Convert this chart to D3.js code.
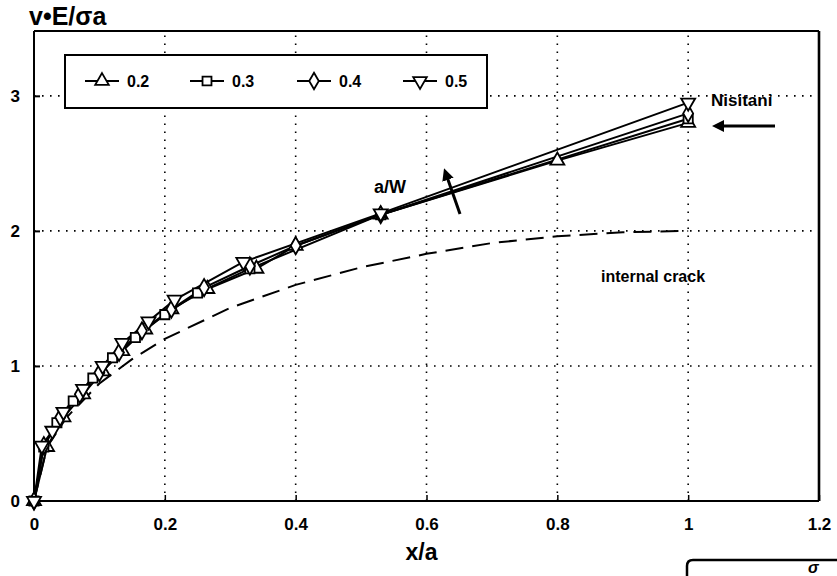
<!DOCTYPE html>
<html>
<head>
<meta charset="utf-8">
<script src="https://cdn.jsdelivr.net/npm/d3@7"></script>
<style>
  html, body { margin: 0; padding: 0; background: #fff; }
  svg { display: block; }
  text { font-family: "Liberation Sans", Arial, sans-serif; font-weight: bold; fill: #000; }
</style>
</head>
<body>
<svg id="chart" width="837" height="576"></svg>
<script>
// Crack opening displacement along the crack face, for several a/W ratios
const seriesNames = ["0.2", "0.3", "0.4", "0.5"];
const xTicks = [0, 0.2, 0.4, 0.6, 0.8, 1, 1.2];
const yTicks = [0, 1, 2, 3];

const xA02 = [0, 0.02, 0.045, 0.075, 0.105, 0.135, 0.17, 0.21, 0.265, 0.34, 0.4, 0.53, 0.8, 1.0];
const vA02 = [0, 0.40, 0.62, 0.79, 0.96, 1.11, 1.27, 1.42, 1.57, 1.72, 1.89, 2.12, 2.52, 2.80];
const xA03 = [0, 0.015, 0.035, 0.06, 0.09, 0.12, 0.155, 0.2, 0.25, 0.33, 0.53, 1.0];
const vA03 = [0, 0.40, 0.58, 0.74, 0.91, 1.06, 1.21, 1.38, 1.54, 1.72, 2.12, 2.83];
const xA04 = [0, 0.015, 0.04, 0.07, 0.1, 0.13, 0.165, 0.21, 0.26, 0.33, 0.4, 0.53, 1.0];
const vA04 = [0, 0.41, 0.62, 0.79, 0.95, 1.10, 1.26, 1.42, 1.58, 1.74, 1.89, 2.12, 2.87];
const xA05 = [0, 0.012, 0.028, 0.045, 0.075, 0.105, 0.135, 0.175, 0.215, 0.32, 0.53, 1.0];
const vA05 = [0, 0.41, 0.52, 0.66, 0.83, 1.00, 1.17, 1.33, 1.49, 1.77, 2.13, 2.95];

// Internal (Griffith) crack reference curve
const xInternal = [0, 0.02, 0.05, 0.1, 0.15, 0.2, 0.3, 0.4, 0.5, 0.6, 0.7, 0.8, 0.9, 1.0];
const vInternal = [0, 0.40, 0.62, 0.87, 1.05, 1.20, 1.43, 1.60, 1.73, 1.83, 1.91, 1.96, 1.99, 2.0];

const svg = d3.select("#chart");
const x = d3.scaleLinear().domain([0, 1.2]).range([34, 819]);
const y = d3.scaleLinear().domain([0, 3.48]).range([501, 31]);

// dotted grid
const grid = svg.append("g").attr("stroke", "#000").attr("stroke-width", 1.6)
  .attr("stroke-dasharray", "1.6,6.4").attr("fill", "none");
[0.2, 0.4, 0.6, 0.8, 1].forEach(v => {
  grid.append("line").attr("x1", x(v)).attr("x2", x(v)).attr("y1", y(0)).attr("y2", y(3.48));
});
[1, 2, 3].forEach(v => {
  grid.append("line").attr("x1", x(0)).attr("x2", x(1.2)).attr("y1", y(v)).attr("y2", y(v));
});

// frame
const frame = svg.append("g").attr("stroke", "#000").attr("fill", "none");
frame.append("line").attr("x1", x(0)).attr("x2", x(0)).attr("y1", y(0)).attr("y2", y(3.48)).attr("stroke-width", 2);
frame.append("line").attr("x1", x(0)).attr("x2", x(1.2)).attr("y1", y(0)).attr("y2", y(0)).attr("stroke-width", 2);
frame.append("line").attr("x1", x(1.2)).attr("x2", x(1.2)).attr("y1", y(0)).attr("y2", y(3.48)).attr("stroke-width", 2.6);
frame.append("line").attr("x1", x(0)).attr("x2", x(1.2)).attr("y1", y(3.48)).attr("y2", y(3.48)).attr("stroke-width", 2);

// inward ticks and labels via d3 axes
const fmt = d => d3.format("~g")(d);
const xAxis = d3.axisBottom(x).tickValues(xTicks).tickSize(-6).tickPadding(17).tickFormat(fmt);
const gx = svg.append("g").attr("transform", `translate(0,${y(0)})`).call(xAxis);
gx.select(".domain").remove();
gx.selectAll(".tick line").attr("stroke", "#000").attr("stroke-width", 1.5);
gx.selectAll(".tick text").attr("font-size", 17).attr("font-family", "Liberation Sans, Arial, sans-serif")
  .attr("font-weight", "bold").attr("fill", "#000");

const yAxis = d3.axisLeft(y).tickValues(yTicks).tickSize(-6).tickPadding(14).tickFormat(fmt);
const gy = svg.append("g").attr("transform", `translate(${x(0)},0)`).call(yAxis);
gy.select(".domain").remove();
gy.selectAll(".tick line").attr("stroke", "#000").attr("stroke-width", 2);
gy.selectAll(".tick text").attr("font-size", 17).attr("font-family", "Liberation Sans, Arial, sans-serif")
  .attr("font-weight", "bold").attr("fill", "#000");

// axis titles
svg.append("text").attr("x", 29).attr("y", 25).attr("font-size", 25).text("v•E/σa");
svg.append("text").attr("x", x(0.6) - 5).attr("y", 560).attr("text-anchor", "middle").attr("font-size", 23).text("x/a");

const line = d3.line().x(d => x(d[0])).y(d => y(d[1]));

// internal crack, dashed
svg.append("path").datum(d3.zip(xInternal, vInternal))
  .attr("d", line).attr("fill", "none").attr("stroke", "#000")
  .attr("stroke-width", 2).attr("stroke-dasharray", "18,9");

const symbols = [
  { type: d3.symbolTriangle, rot: 0 },
  { type: d3.symbolSquare, rot: 0 },
  { type: d3.symbolDiamond, rot: 0 },
  { type: d3.symbolTriangle, rot: 180 }
];
const seriesData = [
  d3.zip(xA02, vA02), d3.zip(xA03, vA03), d3.zip(xA04, vA04), d3.zip(xA05, vA05)
];

seriesData.forEach(data => {
  svg.append("path").datum(data).attr("d", line)
    .attr("fill", "none").attr("stroke", "#000").attr("stroke-width", 2);
});
seriesData.forEach((data, i) => {
  const sym = d3.symbol().type(symbols[i].type).size(85);
  svg.append("g").selectAll("path").data(data).join("path")
    .attr("d", sym)
    .attr("transform", d => `translate(${x(d[0])},${y(d[1])}) rotate(${symbols[i].rot})`)
    .attr("fill", "#fff").attr("stroke", "#000").attr("stroke-width", 1.8);
});

// legend
const legend = svg.append("g");
legend.append("rect").attr("x", 65).attr("y", 55).attr("width", 422).attr("height", 53)
  .attr("fill", "#fff").attr("stroke", "#000").attr("stroke-width", 2);
const legX = [85, 190, 297, 403];
seriesNames.forEach((name, i) => {
  const g = legend.append("g").attr("transform", `translate(${legX[i]},81)`);
  g.append("line").attr("x1", 0).attr("x2", 34).attr("stroke", "#000").attr("stroke-width", 2);
  g.append("path").attr("d", d3.symbol().type(symbols[i].type).size(80))
    .attr("transform", `translate(17,0) rotate(${symbols[i].rot})`)
    .attr("fill", "#fff").attr("stroke", "#000").attr("stroke-width", 1.8);
  g.append("text").attr("x", 42).attr("y", 6).attr("font-size", 16).text(name);
});

// annotations
svg.append("text").attr("x", 711).attr("y", 106).attr("font-size", 17).text("Nisitani");
svg.append("text").attr("x", 601).attr("y", 282).attr("font-size", 16).text("internal crack");
svg.append("text").attr("x", 374).attr("y", 193).attr("font-size", 18).text("a/W");

const defs = svg.append("defs");
defs.append("marker").attr("id", "head").attr("viewBox", "0 0 10 10")
  .attr("refX", 5).attr("refY", 5).attr("markerWidth", 4).attr("markerHeight", 4)
  .attr("orient", "auto-start-reverse")
  .append("path").attr("d", "M0,0 L10,5 L0,10 z").attr("fill", "#000");

svg.append("line").attr("x1", 775).attr("y1", 126).attr("x2", 718).attr("y2", 126)
  .attr("stroke", "#000").attr("stroke-width", 3).attr("marker-end", "url(#head)");
svg.append("line").attr("x1", 460).attr("y1", 214).attr("x2", 446).attr("y2", 174)
  .attr("stroke", "#000").attr("stroke-width", 3).attr("marker-end", "url(#head)");

// loading sketch box, bottom right
svg.append("path").attr("d", "M687,576 L687,566 Q687,560 693,560 L837,560")
  .attr("fill", "none").attr("stroke", "#000").attr("stroke-width", 2.5);
svg.append("text").attr("x", 808).attr("y", 573).attr("font-size", 16)
  .attr("font-style", "italic").text("σ");
</script>
</body>
</html>
